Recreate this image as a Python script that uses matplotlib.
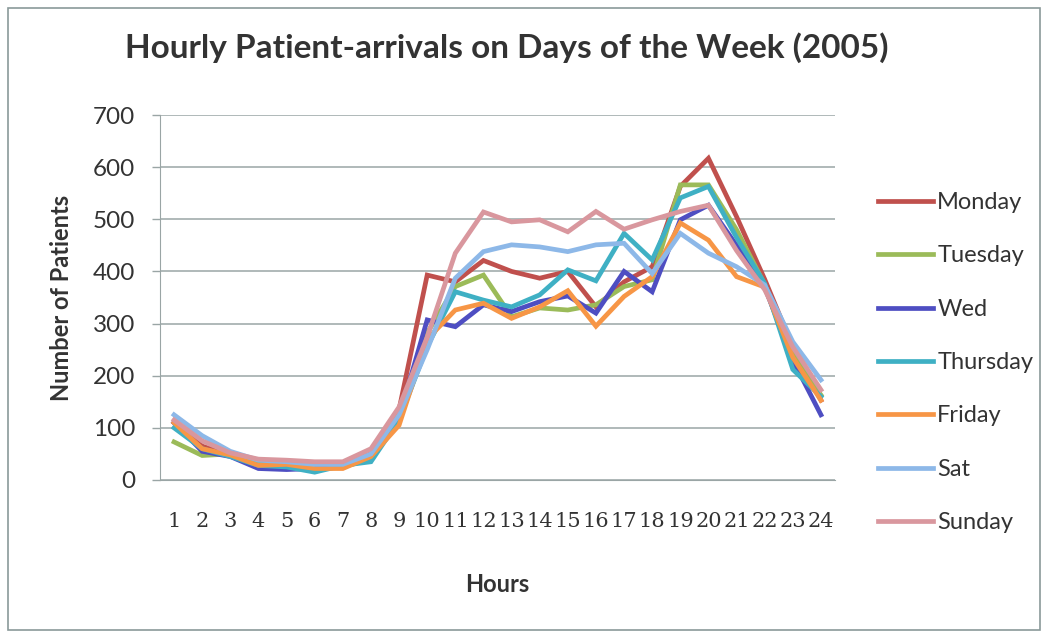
import matplotlib.pyplot as plt
from matplotlib.patches import Rectangle

hours = list(range(1, 25))

monday = [110, 65, 48, 30, 30, 25, 30, 50, 135, 393, 380, 421, 400, 387, 400, 332, 380, 409, 563, 617, 505, 385, 255, 153]
tuesday = [73, 47, 50, 30, 28, 20, 25, 40, 125, 282, 371, 393, 313, 330, 326, 336, 371, 384, 566, 566, 480, 375, 240, 163]
wed = [110, 55, 45, 22, 20, 22, 28, 45, 120, 307, 294, 336, 323, 342, 353, 320, 400, 361, 499, 527, 450, 370, 230, 125]
thursday = [100, 60, 45, 28, 25, 15, 28, 35, 115, 256, 361, 345, 332, 355, 403, 382, 473, 422, 541, 563, 465, 377, 212, 160]
friday = [110, 60, 48, 28, 30, 22, 22, 45, 105, 270, 326, 339, 310, 332, 363, 295, 352, 390, 493, 460, 390, 370, 235, 153]
sat = [125, 85, 55, 38, 35, 30, 30, 50, 125, 250, 387, 438, 451, 447, 438, 451, 454, 396, 473, 435, 409, 374, 265, 192]
sunday = [115, 75, 52, 40, 38, 35, 35, 60, 140, 274, 435, 514, 495, 499, 476, 515, 481, 499, 515, 527, 440, 365, 255, 173]

days = ['Monday', 'Tuesday', 'Wed', 'Thursday', 'Friday', 'Sat', 'Sunday']
colors = ['#C0504D', '#9BBB59', '#4E4EC2', '#3FB0C4', '#F79646', '#8DB8E8', '#D9979E']
series = [monday, tuesday, wed, thursday, friday, sat, sunday]

plt.rcParams['font.family'] = ['Lato', 'DejaVu Sans']

fig = plt.figure(figsize=(10.5, 6.35), dpi=100)
ax = fig.add_axes([160 / 1050, 1 - 480 / 635, 675 / 1050, 365 / 635])

# grey frame around the whole chart
fig.patches.append(Rectangle((8 / 1050, 5 / 635), 1032 / 1050, 622 / 635,
                             transform=fig.transFigure, fill=False,
                             edgecolor='#8a9a9a', linewidth=1.2))

for vals, c, d in zip(series, colors, days):
    ax.plot(hours, vals, color=c, linewidth=3.4, label=d, solid_joinstyle='miter')

ax.set_xlim(0.5, 24.5)
ax.set_ylim(0, 700)
ax.set_yticks(range(0, 701, 100))
ax.set_xticks(hours)
ax.set_xticklabels([str(h) for h in hours], family='DejaVu Serif', fontsize=15, color='#333333')
ax.tick_params(axis='x', length=0, pad=23)
ax.tick_params(axis='y', length=6, width=1, color='#9aa5a5', labelsize=17.5, labelcolor='#333333', pad=12)
ax.grid(axis='y', color='#9aa5a5', linewidth=1.1)
ax.set_axisbelow(True)
for s in ['top', 'right']:
    ax.spines[s].set_visible(False)
ax.spines['left'].set_color('#9aa5a5')
ax.spines['bottom'].set_color('#9aa5a5')

ax.set_xlabel('Hours', fontsize=17, fontweight='bold', color='#333333', labelpad=30)
ax.set_ylabel('Number of Patients', fontsize=17, fontweight='bold', color='#333333', labelpad=14)
fig.text(507 / 1050, 1 - 48 / 635, 'Hourly Patient-arrivals on Days of the Week (2005)',
         fontsize=24, fontweight='bold', color='#333333', ha='center', va='center')

leg = ax.legend(loc='upper left', bbox_to_anchor=(1.0326, 0.847), frameon=False,
                fontsize=17, handlelength=2.3, handletextpad=0.2, labelspacing=1.37)
for t in leg.get_texts():
    t.set_color('#333333')

plt.savefig('out.png', dpi=100)
